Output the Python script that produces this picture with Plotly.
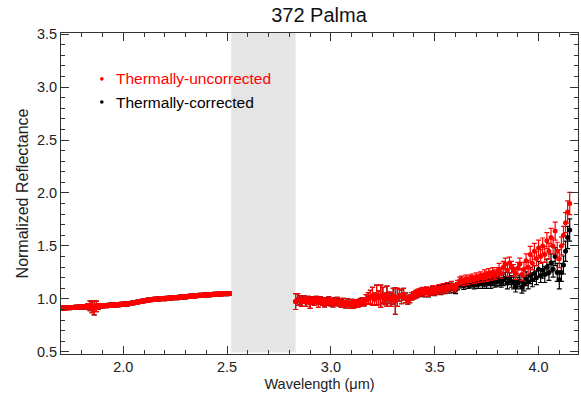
import plotly.graph_objects as go

# ---------------- data ----------------
wl_short = [1.70, 1.71, 1.72, 1.73, 1.74, 1.75, 1.76, 1.77, 1.78, 1.79,
            1.80, 1.81, 1.82, 1.83, 1.84, 1.85, 1.86, 1.87, 1.88, 1.89,
            1.90, 1.91, 1.92, 1.93, 1.94, 1.95, 1.96, 1.97, 1.98, 1.99,
            2.00, 2.01, 2.02, 2.03, 2.04, 2.05, 2.06, 2.07, 2.08, 2.09,
            2.10, 2.11, 2.12, 2.13, 2.14, 2.15, 2.16, 2.17, 2.18, 2.19,
            2.20, 2.21, 2.22, 2.23, 2.24, 2.25, 2.26, 2.27, 2.28, 2.29,
            2.30, 2.31, 2.32, 2.33, 2.34, 2.35, 2.36, 2.37, 2.38, 2.39,
            2.40, 2.41, 2.42, 2.43, 2.44, 2.45, 2.46, 2.47, 2.48, 2.49,
            2.50, 2.51]
refl_short = [0.912, 0.915, 0.913, 0.918, 0.916, 0.920, 0.919, 0.922, 0.921, 0.925,
              0.924, 0.927, 0.926, 0.930, 0.935, 0.925, 0.915, 0.930, 0.928, 0.934,
              0.933, 0.937, 0.936, 0.940, 0.939, 0.943, 0.942, 0.946, 0.945, 0.949,
              0.950, 0.953, 0.952, 0.957, 0.960, 0.963, 0.966, 0.970, 0.975, 0.978,
              0.983, 0.986, 0.990, 0.993, 0.995, 0.997, 0.996, 0.999, 1.001, 1.003,
              1.002, 1.005, 1.007, 1.009, 1.011, 1.013, 1.012, 1.016, 1.018, 1.020,
              1.019, 1.023, 1.025, 1.027, 1.026, 1.030, 1.032, 1.034, 1.033, 1.036,
              1.038, 1.040, 1.039, 1.042, 1.043, 1.045, 1.044, 1.047, 1.048, 1.050,
              1.049, 1.052]
err_short = [0.018, 0.018, 0.018, 0.018, 0.018, 0.018, 0.018, 0.018, 0.018, 0.018,
             0.018, 0.018, 0.020, 0.025, 0.045, 0.055, 0.065, 0.050, 0.025, 0.020,
             0.018, 0.018, 0.018, 0.018, 0.018, 0.018, 0.018, 0.018, 0.018, 0.018,
             0.018, 0.018, 0.018, 0.018, 0.018, 0.018, 0.018, 0.018, 0.018, 0.018,
             0.018, 0.018, 0.018, 0.018, 0.018, 0.018, 0.018, 0.018, 0.018, 0.018,
             0.018, 0.018, 0.018, 0.018, 0.018, 0.018, 0.018, 0.018, 0.018, 0.018,
             0.018, 0.018, 0.018, 0.018, 0.018, 0.018, 0.018, 0.018, 0.018, 0.018,
             0.018, 0.018, 0.018, 0.018, 0.018, 0.018, 0.018, 0.018, 0.018, 0.018,
             0.018, 0.018]

wl_long = [2.83, 2.84, 2.85, 2.86, 2.87, 2.88, 2.89, 2.90, 2.91, 2.92,
           2.93, 2.94, 2.95, 2.96, 2.97, 2.98, 2.99, 3.00, 3.01, 3.02,
           3.03, 3.04, 3.05, 3.06, 3.07, 3.08, 3.09, 3.10, 3.11, 3.12,
           3.13, 3.14, 3.15, 3.16, 3.17, 3.18, 3.19, 3.20, 3.21, 3.22,
           3.23, 3.24, 3.25, 3.26, 3.27, 3.28, 3.29, 3.30, 3.31, 3.32,
           3.33, 3.34, 3.35, 3.36, 3.37, 3.38, 3.39, 3.40, 3.41, 3.42,
           3.43, 3.44, 3.45, 3.46, 3.47, 3.48, 3.49, 3.50, 3.51, 3.52,
           3.53, 3.54, 3.55, 3.56, 3.57, 3.58, 3.59, 3.60, 3.61, 3.62,
           3.63, 3.64, 3.65, 3.66, 3.67, 3.68, 3.69, 3.70, 3.71, 3.72,
           3.73, 3.74, 3.75, 3.76, 3.77, 3.78, 3.79, 3.80, 3.81, 3.82,
           3.83, 3.84, 3.85, 3.86, 3.87, 3.88, 3.89, 3.90, 3.91, 3.92,
           3.93, 3.94, 3.95, 3.96, 3.97, 3.98, 3.99, 4.00, 4.01, 4.02,
           4.03, 4.04, 4.05, 4.06, 4.07, 4.08, 4.09, 4.10, 4.11, 4.12,
           4.13, 4.14, 4.15]
uncorr_long = [0.975, 0.995, 0.985, 0.975, 0.995, 0.970, 0.990, 0.965, 0.985, 0.975,
               0.990, 0.965, 0.985, 0.975, 0.960, 0.975, 0.985, 0.970, 0.960, 0.975,
               0.980, 0.965, 0.955, 0.970, 0.950, 0.965, 0.945, 0.960, 0.948, 0.958,
               0.955, 0.965, 0.975, 0.970, 0.995, 1.005, 1.015, 1.025, 1.000, 1.035,
               1.010, 1.025, 1.035, 1.000, 1.025, 1.010, 0.995, 1.025, 0.980, 1.015,
               1.035, 1.020, 1.045, 1.010, 0.985, 1.000, 1.025, 1.035, 1.045, 1.055,
               1.065, 1.075, 1.060, 1.080, 1.060, 1.075, 1.090, 1.070, 1.085, 1.100,
               1.080, 1.110, 1.090, 1.120, 1.100, 1.130, 1.110, 1.100, 1.140, 1.170,
               1.180, 1.160, 1.190, 1.170, 1.190, 1.200, 1.180, 1.210, 1.190, 1.220,
               1.200, 1.230, 1.210, 1.240, 1.220, 1.250, 1.230, 1.250, 1.280, 1.240,
               1.300, 1.330, 1.270, 1.340, 1.300, 1.270, 1.240, 1.290, 1.330, 1.230,
               1.280, 1.360, 1.300, 1.420, 1.340, 1.450, 1.380, 1.480, 1.400, 1.500,
               1.420, 1.550, 1.450, 1.580, 1.500, 1.640, 1.450, 1.380, 1.500, 1.600,
               1.720, 1.820, 1.900]
corr_long = [0.975, 0.995, 0.985, 0.975, 0.995, 0.970, 0.990, 0.965, 0.985, 0.975,
             0.990, 0.965, 0.985, 0.975, 0.960, 0.975, 0.985, 0.970, 0.960, 0.975,
             0.980, 0.965, 0.955, 0.970, 0.950, 0.965, 0.945, 0.960, 0.948, 0.958,
             0.955, 0.965, 0.975, 0.970, 0.995, 1.005, 1.015, 1.025, 1.000, 1.035,
             1.010, 1.025, 1.035, 1.000, 1.025, 1.010, 0.995, 1.025, 0.980, 1.015,
             1.035, 1.020, 1.045, 1.010, 0.985, 1.000, 1.025, 1.035, 1.045, 1.055,
             1.060, 1.070, 1.055, 1.075, 1.055, 1.070, 1.080, 1.065, 1.080, 1.090,
             1.075, 1.100, 1.085, 1.110, 1.090, 1.115, 1.095, 1.085, 1.120, 1.140,
             1.150, 1.125, 1.150, 1.135, 1.140, 1.150, 1.130, 1.150, 1.135, 1.160,
             1.140, 1.160, 1.145, 1.170, 1.145, 1.170, 1.155, 1.165, 1.180, 1.155,
             1.180, 1.195, 1.150, 1.190, 1.165, 1.150, 1.120, 1.150, 1.170, 1.110,
             1.140, 1.190, 1.160, 1.220, 1.180, 1.240, 1.200, 1.280, 1.220, 1.270,
             1.230, 1.300, 1.250, 1.340, 1.280, 1.400, 1.250, 1.180, 1.250, 1.320,
             1.450, 1.580, 1.650]
err_long = [0.075, 0.055, 0.045, 0.045, 0.035, 0.040, 0.035, 0.055, 0.035, 0.035,
            0.035, 0.045, 0.035, 0.035, 0.035, 0.035, 0.035, 0.035, 0.035, 0.035,
            0.035, 0.035, 0.035, 0.035, 0.035, 0.035, 0.035, 0.035, 0.035, 0.035,
            0.035, 0.035, 0.035, 0.035, 0.045, 0.055, 0.065, 0.085, 0.055, 0.095,
            0.065, 0.105, 0.075, 0.055, 0.095, 0.055, 0.065, 0.075, 0.125, 0.085,
            0.055, 0.065, 0.055, 0.045, 0.035, 0.035, 0.035, 0.035, 0.035, 0.035,
            0.035, 0.035, 0.035, 0.035, 0.035, 0.035, 0.035, 0.035, 0.035, 0.035,
            0.035, 0.035, 0.035, 0.035, 0.035, 0.035, 0.035, 0.035, 0.035, 0.035,
            0.035, 0.035, 0.035, 0.035, 0.035, 0.035, 0.035, 0.035, 0.035, 0.035,
            0.040, 0.045, 0.045, 0.045, 0.045, 0.045, 0.045, 0.045, 0.055, 0.045,
            0.055, 0.055, 0.055, 0.055, 0.055, 0.055, 0.055, 0.055, 0.055, 0.055,
            0.065, 0.065, 0.065, 0.075, 0.065, 0.075, 0.065, 0.075, 0.065, 0.075,
            0.075, 0.075, 0.075, 0.085, 0.075, 0.085, 0.085, 0.085, 0.085, 0.085,
            0.095, 0.105, 0.105]

gap_start, gap_end = 2.52, 2.83
title_text = "372 Palma"
label_uncorr = "Thermally-uncorrected"
label_corr = "Thermally-corrected"

FONT = "Liberation Sans, Arial, Helvetica, sans-serif"
RED = "#ff0000"
BLACK = "#000000"

fig = go.Figure()


def add_series(x, y, e, color):
    fig.add_trace(go.Scatter(
        x=x, y=y, mode="markers",
        marker=dict(symbol="circle", size=5, color=color, line=dict(width=0)),
        error_y=dict(type="data", array=e, visible=True, color=color,
                     thickness=1.2, width=2.5),
        showlegend=False, hoverinfo="skip"))


# black (corrected) first, red (uncorrected) on top
add_series(wl_short, refl_short, err_short, BLACK)
add_series(wl_long, corr_long, err_long, BLACK)
add_series(wl_short, refl_short, err_short, RED)
add_series(wl_long, uncorr_long, err_long, RED)

# grey band (telluric gap)
fig.add_shape(type="rect", xref="x", yref="paper", x0=gap_start, x1=gap_end,
              y0=0.005, y1=1, fillcolor="#e5e5e5", line=dict(width=0),
              layer="below")

# legend (dots + coloured text)
for yp, col, txt in [(0.857, RED, label_uncorr), (0.785, BLACK, label_corr)]:
    fig.add_shape(type="circle", xref="paper", yref="paper",
                  xsizemode="pixel", ysizemode="pixel",
                  xanchor=0.079, yanchor=yp, x0=-1.8, x1=1.8, y0=-1.8, y1=1.8,
                  fillcolor=col, line=dict(width=0))
    fig.add_annotation(xref="paper", yref="paper", x=0.102, y=yp,
                       text=txt, showarrow=False, xanchor="left",
                       yanchor="middle",
                       font=dict(family=FONT, size=15.5, color=col))

axis_common = dict(
    showgrid=False, zeroline=False, showline=True, linecolor="#333333",
    linewidth=1, mirror="ticks", ticks="inside", ticklen=8, tickwidth=1,
    tickcolor="#333333",
    tickfont=dict(family=FONT, size=14.5, color="#222222"),
    tickformat=".1f",
)

fig.update_xaxes(**axis_common, range=[1.70, 4.19], dtick=0.5, tick0=2.0,
                 minor=dict(dtick=0.1, ticklen=4, ticks="inside",
                            tickcolor="#333333", showgrid=False),
                 title=dict(text="Wavelength (\u03bcm)", standoff=4,
                            font=dict(family=FONT, size=14.5, color="#222222")))
fig.update_yaxes(**axis_common, range=[0.48, 3.51], dtick=0.5, tick0=0.5,
                 minor=dict(dtick=0.1, ticklen=4, ticks="inside",
                            tickcolor="#333333", showgrid=False),
                 title=dict(text="Normalized Reflectance", standoff=4,
                            font=dict(family=FONT, size=16, color="#222222")))

fig.update_layout(
    width=581, height=404,
    margin=dict(l=61, r=3, t=33, b=50),
    paper_bgcolor="white", plot_bgcolor="white",
    title=dict(text=title_text, x=0.549, xanchor="center", y=0.963,
               yanchor="middle",
               font=dict(family=FONT, size=20, color="#111111")),
    showlegend=False,
)

fig.write_html("out.html")
